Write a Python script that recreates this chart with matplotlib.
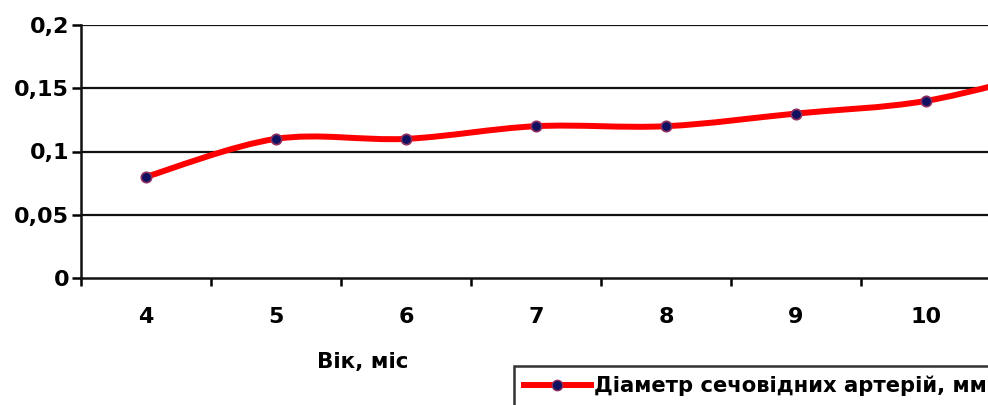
import matplotlib
matplotlib.use("Agg")
import matplotlib.pyplot as plt
from matplotlib.path import Path
from matplotlib.patches import PathPatch
from matplotlib.lines import Line2D
from matplotlib.ticker import FixedLocator, FuncFormatter

ages = [4, 5, 6, 7, 8, 9, 10, 11]
diameter = [0.08, 0.11, 0.11, 0.12, 0.12, 0.13, 0.14, 0.165]
y_ticks = [0, 0.05, 0.1, 0.15, 0.2]
y_tick_labels = ["0", "0,05", "0,1", "0,15", "0,2"]
x_label = "Вік, міс"
series_label = "Діаметр сечовідних артерій, мм"

plt.rcParams['font.family'] = ['DejaVu Sans']
plt.rcParams['font.weight'] = 'bold'

W, H = 988, 405
fig = plt.figure(figsize=(W / 100, H / 100), dpi=100)
left_px, right_px, top_px, bot_px = 81, 988, 25, 278
ax = fig.add_axes([left_px / W, 1 - bot_px / H, (right_px - left_px) / W, (bot_px - top_px) / H])

px_per_cat = 130.0
ax.set_xlim(3.5, 3.5 + (right_px - left_px) / px_per_cat)
ax.set_ylim(0, 0.2)

# smooth Bezier (Excel-like) through the points
xs, ys = ages, diameter
n = len(xs)
verts = [(xs[0], ys[0])]
codes = [Path.MOVETO]
for i in range(n - 1):
    x0, y0 = (xs[i - 1], ys[i - 1]) if i > 0 else (xs[i], ys[i])
    x1, y1 = xs[i], ys[i]
    x2, y2 = xs[i + 1], ys[i + 1]
    x3, y3 = (xs[i + 2], ys[i + 2]) if i + 2 < n else (x2, y2)
    c1 = (x1 + (x2 - x0) / 6, y1 + (y2 - y0) / 6)
    c2 = (x2 - (x3 - x1) / 6, y2 - (y3 - y1) / 6)
    verts += [c1, c2, (x2, y2)]
    codes += [Path.CURVE4] * 3
patch = PathPatch(Path(verts, codes), facecolor='none', edgecolor='#ff0000',
                  linewidth=4.3, zorder=3, capstyle='round', joinstyle='round')
ax.add_patch(patch)
ax.plot(xs, ys, linestyle='none', marker='o', markersize=7.5,
        markerfacecolor='#101060', markeredgecolor='#903060', markeredgewidth=1.2, zorder=4)

# grid
for yv in y_ticks[1:]:
    ax.axhline(yv, color='#111111', linewidth=1.6, zorder=1)

for s in ['top', 'right']:
    ax.spines[s].set_visible(False)
for s in ['left', 'bottom']:
    ax.spines[s].set_linewidth(1.8)
    ax.spines[s].set_color('#111111')

ax.yaxis.set_major_locator(FixedLocator(y_ticks))
ax.set_yticklabels(y_tick_labels)
ax.tick_params(axis='y', direction='out', length=6.5, width=1.8, labelsize=16, pad=2)

bounds = [a - 0.5 for a in ages]
ax.xaxis.set_major_locator(FixedLocator(bounds))
ax.xaxis.set_major_formatter(FuncFormatter(lambda v, p: ""))
ax.xaxis.set_minor_locator(FixedLocator(ages))
ax.xaxis.set_minor_formatter(FuncFormatter(lambda v, p: f"{int(round(v))}"))
ax.tick_params(axis='x', which='major', direction='out', length=6, width=1.8)
ax.tick_params(axis='x', which='minor', length=0, labelsize=16, pad=21)
for lab in ax.get_yticklabels() + ax.get_xticklabels(which='minor'):
    lab.set_fontweight('bold')

fig.text(363 / W, 1 - 362 / H, x_label, ha='center', va='center', fontsize=15.5, fontweight='bold')

handle = Line2D([], [], color='#ff0000', linewidth=4.3, marker='o', markersize=7.5,
                markerfacecolor='#101060', markeredgecolor='#903060')
leg = fig.legend([handle], [series_label], loc='upper left',
                 bbox_to_anchor=(514 / W, 1 - 366 / H), frameon=True, fancybox=False,
                 fontsize=15.2, handlelength=3.2, handletextpad=0.12, borderpad=0.45,
                 borderaxespad=0)
leg.get_frame().set_edgecolor('#000000')
leg.get_frame().set_linewidth(1.8)
for t in leg.get_texts():
    t.set_fontweight('bold')

fig.savefig("out.png", dpi=100)
